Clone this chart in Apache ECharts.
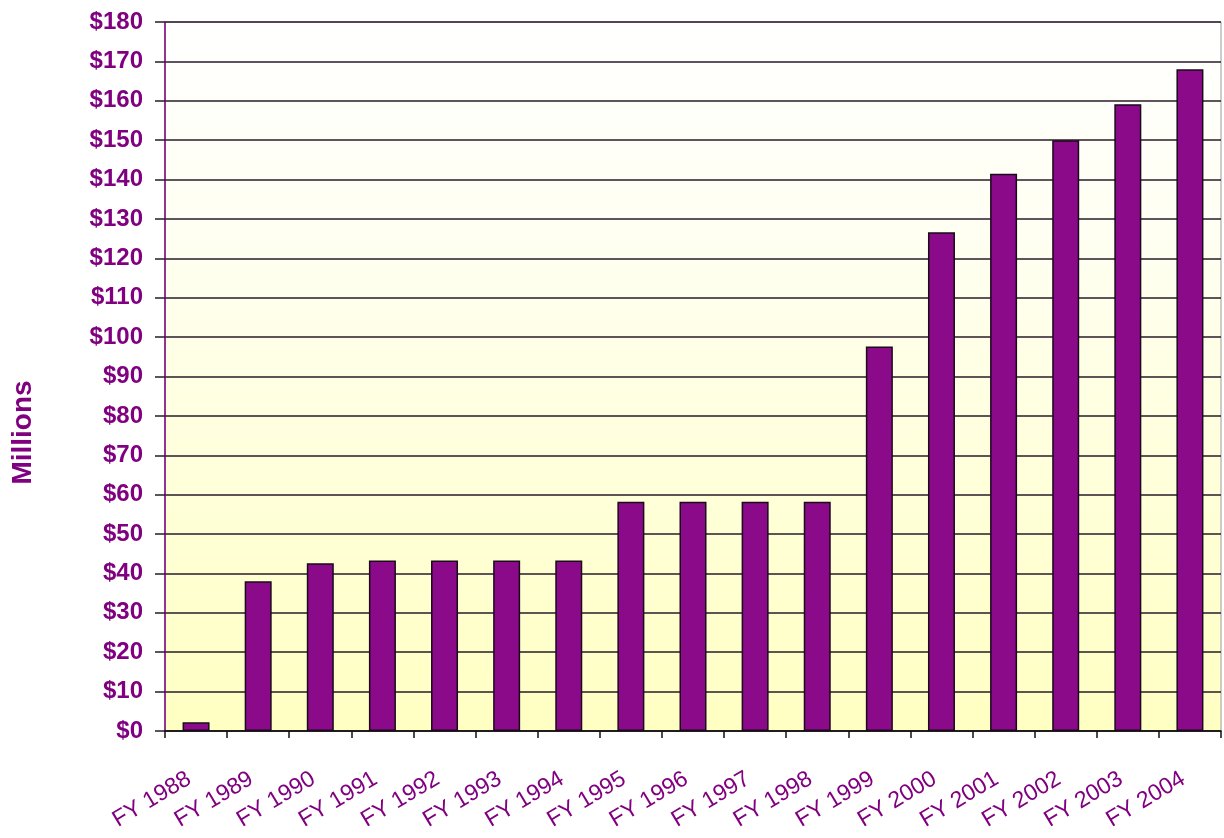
<!DOCTYPE html>
<html>
<head>
<meta charset="utf-8">
<script src="https://cdn.jsdelivr.net/npm/echarts@6/dist/echarts.min.js"></script>
<style>
  html, body { margin: 0; padding: 0; background: #ffffff; }
  #chart { width: 1224px; height: 838px; }
</style>
</head>
<body>
<div id="chart"></div>
<script>
// Fiscal years on the category axis
const years = ['FY 1988', 'FY 1989', 'FY 1990', 'FY 1991', 'FY 1992', 'FY 1993',
  'FY 1994', 'FY 1995', 'FY 1996', 'FY 1997', 'FY 1998', 'FY 1999', 'FY 2000',
  'FY 2001', 'FY 2002', 'FY 2003', 'FY 2004'];

// Funding per year, in millions of dollars
const funding = [2.2, 38, 42.6, 43.3, 43.3, 43.3, 43.3, 58.2, 58.2, 58.2, 58.2,
  97.6, 126.6, 141.5, 150, 159.1, 168];

// Value axis range
const axisMin = 0;
const axisMax = 180;
const axisStep = 10;

const purple = '#800080';

const chart = echarts.init(document.getElementById('chart'));
chart.setOption({
  animation: false,
  backgroundColor: '#ffffff',
  grid: {
    left: 165, top: 22, right: 3, bottom: 107,
    show: true,
    borderWidth: 1,
    borderColor: '#9a9a9a',
    backgroundColor: {
      type: 'linear', x: 0, y: 0, x2: 0, y2: 1,
      colorStops: [
        { offset: 0, color: '#ffffff' },
        { offset: 0.3, color: '#fffff2' },
        { offset: 1, color: '#ffffc2' }
      ]
    }
  },
  xAxis: {
    type: 'category',
    data: years,
    axisLine: { lineStyle: { color: '#111111', width: 1.5 } },
    axisTick: { show: true, interval: 0, length: 7, lineStyle: { color: '#111111', width: 1.5 } },
    axisLabel: {
      interval: 0,
      hideOverlap: false,
      rotate: 31,
      margin: 42,
      padding: [0, 8, 0, 0],
      color: purple,
      fontFamily: 'Liberation Sans, Arial, sans-serif',
      fontSize: 23
    }
  },
  yAxis: {
    type: 'value',
    min: axisMin,
    max: axisMax,
    interval: axisStep,
    name: 'Millions',
    nameLocation: 'middle',
    nameGap: 128,
    nameRotate: 90,
    nameTextStyle: {
      color: purple,
      fontFamily: 'Liberation Sans, Arial, sans-serif',
      fontWeight: 'bold',
      fontSize: 28,
      padding: [0, 112, 0, 0]
    },
    axisLine: { show: true, lineStyle: { color: purple, width: 1.5 } },
    axisTick: { show: true, length: 10, lineStyle: { color: '#2a1a2a', width: 1.5 } },
    splitLine: { show: true, lineStyle: { color: '#2a1a2a', width: 1.5 } },
    axisLabel: {
      margin: 22,
      color: purple,
      fontFamily: 'Liberation Sans, Arial, sans-serif',
      fontWeight: 'bold',
      fontSize: 24,
      formatter: v => '$' + v
    }
  },
  series: [{
    type: 'bar',
    data: funding,
    barWidth: 27,
    itemStyle: {
      color: '#8a0a8a',
      borderColor: '#1a0a1a',
      borderWidth: 1.5
    }
  }]
});
</script>
</body>
</html>
